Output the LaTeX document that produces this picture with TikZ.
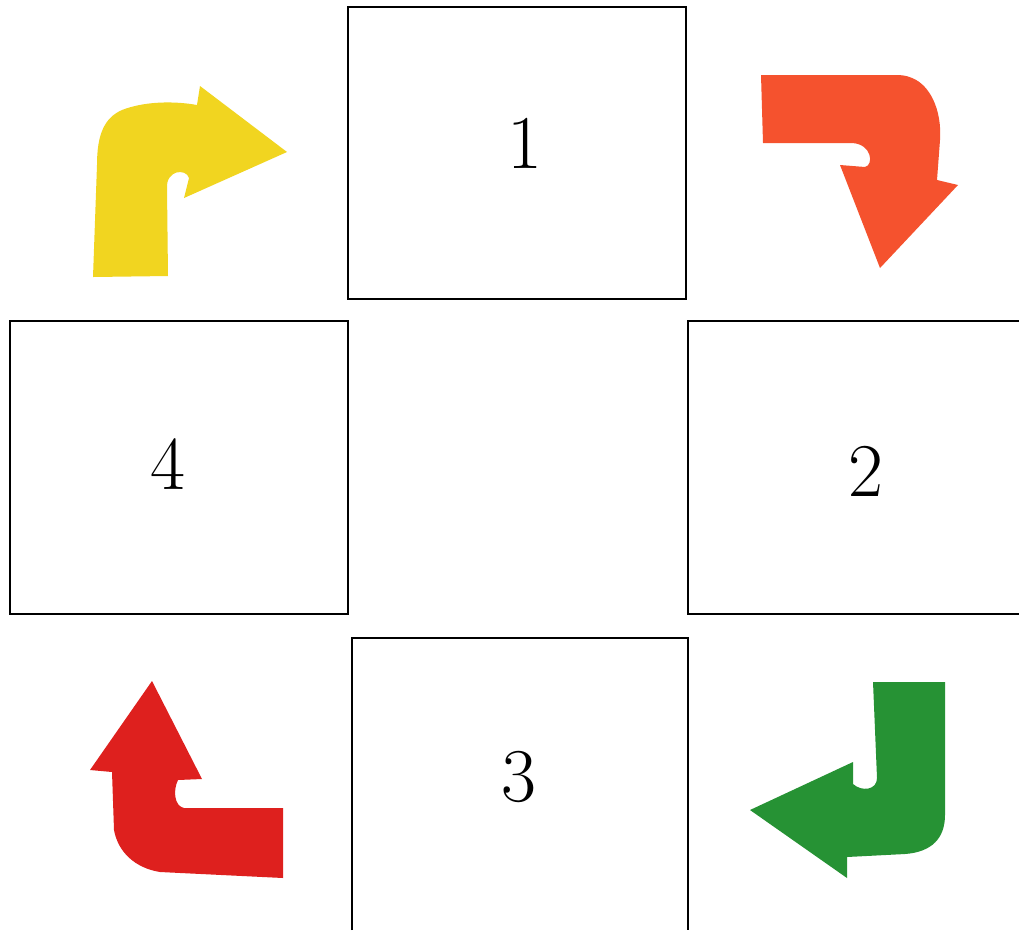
\documentclass[tikz,border=0pt]{standalone}
\begin{document}
\begin{tikzpicture}[x=1pt,y=-1pt,
  boxline/.style={draw=black,line width=2.4pt},
  numlabel/.style={font=\fontsize{76}{84}\selectfont},
  arrowshape/.style={line width=0.6pt,line join=round}]
\definecolor{cyellow}{RGB}{241,213,32}
\definecolor{corange}{RGB}{245,82,46}
\definecolor{cred}{RGB}{222,32,30}
\definecolor{cgreen}{RGB}{38,146,52}
\useasboundingbox[fill=white] (0,0) rectangle (1019,930);
% boxes
\draw[boxline] (348,7) rectangle (686,299);
\draw[boxline] (10,321) rectangle (348,614);
\draw[boxline] (1019,321) -- (688,321) -- (688,614) -- (1019,614);
\draw[boxline] (352,930) -- (352,638) -- (688,638) -- (688,930);
% labels
\node[numlabel] (n1) at (525,143) {1};
\node[numlabel] (n2) at (866,471) {2};
\node[numlabel] (n3) at (519,777) {3};
\node[numlabel] (n4) at (168,464) {4};
% yellow arrow (top left)
\fill[cyellow,arrowshape] (93,277) -- (168,276) -- (167,188)
  .. controls (166,170) and (186,168) .. (189,178)
  -- (184,198) -- (287,152) -- (200,86) -- (197,105)
  .. controls (175,101) and (145,101) .. (122,110)
  .. controls (104,118) and (97,135) .. (97,165) -- cycle;
% orange arrow (top right)
\fill[corange,arrowshape] (761,75) -- (763,143) -- (852,143)
  .. controls (872,144) and (874,165) .. (865,167)
  -- (840,165) -- (880,268) -- (958,185) -- (937,180)
  -- (940,140)
  .. controls (942,110) and (930,85) .. (912,78)
  .. controls (905,75) and (900,75) .. (895,75) -- cycle;
% red arrow (bottom left)
\fill[cred,arrowshape] (152,681) -- (202,779) -- (178,780)
  .. controls (173,790) and (174,806) .. (184,808)
  -- (283,808) -- (283,878) -- (160,872)
  .. controls (135,868) and (118,852) .. (114,830)
  -- (112,772) -- (90,770) -- cycle;
% green arrow (bottom right)
\fill[cgreen,arrowshape] (873,682) -- (945,682) -- (945,815)
  .. controls (945,838) and (932,852) .. (905,854)
  -- (847,857) -- (847,878) -- (750,810) -- (853,762) -- (853,784)
  .. controls (862,792) and (877,790) .. (877,778) -- cycle;
\end{tikzpicture}
\end{document}
